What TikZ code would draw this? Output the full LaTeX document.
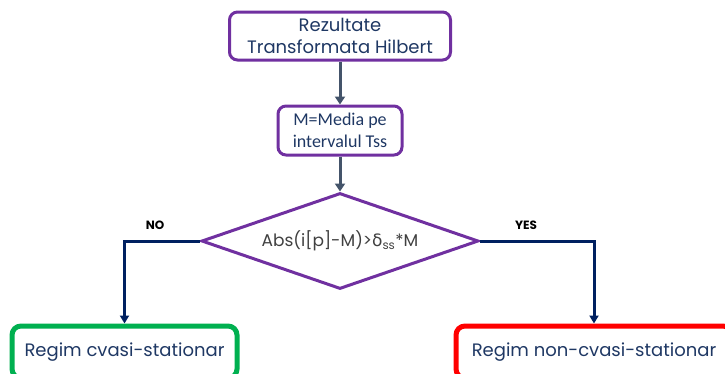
\documentclass[tikz,border=0pt]{standalone}
\usepackage{fontspec}
\usepackage{xcolor}
\usetikzlibrary{shapes.geometric,arrows.meta}
\setmainfont{Poppins}
\newfontfamily\calibrifont{Carlito}
\newfontfamily\greekfont{DejaVu Sans}
\definecolor{boxpurple}{RGB}{112,48,160}
\definecolor{textblue}{RGB}{31,56,100}
\definecolor{arrowgray}{RGB}{68,84,106}
\definecolor{linenavy}{RGB}{0,32,96}
\definecolor{okgreen}{RGB}{0,176,80}
\definecolor{badred}{RGB}{255,0,0}
\tikzset{
  procbox/.style={draw=boxpurple,line width=3pt,rounded corners=8pt,fill=white,
    text=textblue,align=center,inner sep=0pt},
  resultbox/.style={line width=5pt,rounded corners=9pt,fill=white,text=textblue,
    font=\fontsize{18}{21}\selectfont,inner sep=0pt},
  grayarrow/.style={draw=arrowgray,line width=3pt,-{Triangle[width=10pt,length=8pt]}},
  navyarrow/.style={draw=linenavy,line width=3pt,-{Triangle[width=9pt,length=8pt]}},
  branchlabel/.style={font=\bfseries\fontsize{12}{14}\selectfont,text=black}
}

\begin{document}
\begin{tikzpicture}[x=1pt,y=-1pt]
  \useasboundingbox (0,0) rectangle (725,373);

  % Hilbert results
  \node[procbox,minimum width=221pt,minimum height=48pt,
    font=\fontsize{18}{22}\selectfont] (hilbert) at (340,36)
    {Rezultate\\Transformata Hilbert};

  % mean over Tss
  \node[procbox,minimum width=124pt,minimum height=49pt,
    font=\calibrifont\fontsize{18}{22}\selectfont] (media) at (340,130.5)
    {M=Media pe\\intervalul Tss};

  % decision
  \node[draw=boxpurple,line width=3pt,shape=diamond,aspect=2.885,inner sep=0pt,
    minimum width=277pt,minimum height=96pt,text=black!75,
    font=\fontsize{17}{20}\selectfont] (test) at (340,241)
    {Abs(i[p]-M)>{\greekfont δ}\textsubscript{ss}*M};

  % outcomes (cut by the page edge)
  \node[resultbox,draw=okgreen,minimum width=225pt,minimum height=52pt] (cvasi) at (124.5,352)
    {Regim cvasi-stationar};
  \node[resultbox,draw=badred,minimum width=276pt,minimum height=52pt] (noncvasi) at (594,352)
    {Regim non-cvasi-stationar};

  % arrows
  \draw[grayarrow] (hilbert.south) -- (media.north);
  \draw[grayarrow] (media.south) -- (test.north);
  \draw[navyarrow] (test.west) -| (cvasi.north);
  \draw[navyarrow] (test.east) -| (noncvasi.north);

  % branch labels
  \node[branchlabel] (nolabel) at (155,225) {NO};
  \node[branchlabel] (yeslabel) at (526,225) {YES};
\end{tikzpicture}
\end{document}
